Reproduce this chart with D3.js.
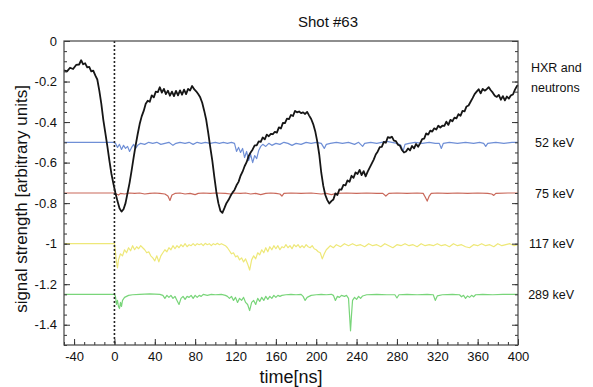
<!DOCTYPE html>
<html><head><meta charset="utf-8">
<script src="https://cdn.jsdelivr.net/npm/d3@7"></script>
<style>body{margin:0;background:#fff}svg{display:block}text{font-family:"Liberation Sans",Arial,Helvetica,sans-serif;fill:#111}</style>
</head><body><svg id="c" width="593" height="387"></svg>
<script>
const title = "Shot #63";
const xLabel = "time[ns]";
const yLabel = "signal strength [arbitrary units]";
const xTicks = [-40,0,40,80,120,160,200,240,280,320,360,400];
const yTicks = [0,-0.2,-0.4,-0.6,-0.8,-1,-1.2,-1.4];
const seriesNames = ["HXR and neutrons","52 keV","75 keV","117 keV","289 keV"];
const seriesBase = [null,-0.5,-0.75,-1.0,-1.25];
const seriesColors = ["#161616","#6f8fd6","#c9685a","#eee878","#79d57a"];

const hxr = [[-50,-0.145],[-47,-0.150],[-44,-0.132],[-41,-0.138],[-38,-0.118],[-35,-0.116],[-33,-0.095],[-31,-0.115],[-29,-0.110],[-27,-0.130],[-25,-0.128],[-23,-0.150],[-21,-0.146],[-19,-0.170],[-17,-0.190],[-15,-0.245],[-13,-0.310],[-11,-0.390],[-9,-0.455],[-7,-0.520],[-5,-0.590],[-3,-0.655],[-1,-0.705],[1,-0.750],[3,-0.790],[5,-0.825],[7,-0.842],[9,-0.830],[11,-0.800],[13,-0.750],[15,-0.700],[17,-0.640],[19,-0.575],[21,-0.515],[23,-0.460],[25,-0.410],[27,-0.372],[29,-0.345],[31,-0.310],[33,-0.295],[35,-0.300],[37,-0.268],[39,-0.278],[41,-0.250],[43,-0.252],[45,-0.228],[47,-0.255],[49,-0.236],[51,-0.262],[53,-0.245],[55,-0.270],[57,-0.250],[59,-0.272],[61,-0.246],[63,-0.268],[65,-0.244],[67,-0.265],[69,-0.240],[71,-0.262],[73,-0.236],[75,-0.244],[77,-0.222],[79,-0.238],[81,-0.248],[83,-0.262],[85,-0.278],[87,-0.305],[89,-0.345],[91,-0.390],[93,-0.455],[95,-0.525],[97,-0.590],[99,-0.670],[101,-0.745],[103,-0.800],[105,-0.838],[107,-0.848],[109,-0.825],[111,-0.800],[113,-0.785],[115,-0.765],[117,-0.748],[119,-0.735],[121,-0.712],[123,-0.695],[125,-0.665],[127,-0.645],[129,-0.618],[131,-0.598],[133,-0.568],[135,-0.550],[137,-0.535],[139,-0.515],[141,-0.515],[143,-0.495],[145,-0.498],[147,-0.476],[149,-0.485],[151,-0.462],[153,-0.470],[155,-0.458],[157,-0.460],[159,-0.448],[161,-0.452],[163,-0.426],[165,-0.432],[167,-0.404],[169,-0.405],[171,-0.383],[173,-0.385],[175,-0.365],[177,-0.370],[179,-0.345],[181,-0.352],[183,-0.348],[185,-0.356],[187,-0.352],[189,-0.360],[191,-0.350],[193,-0.368],[195,-0.385],[197,-0.410],[199,-0.445],[201,-0.495],[203,-0.560],[205,-0.650],[207,-0.715],[209,-0.760],[211,-0.785],[213,-0.802],[215,-0.790],[217,-0.782],[219,-0.752],[221,-0.760],[223,-0.732],[225,-0.733],[227,-0.710],[229,-0.712],[231,-0.688],[233,-0.695],[235,-0.665],[237,-0.675],[239,-0.648],[241,-0.656],[243,-0.636],[245,-0.662],[247,-0.642],[249,-0.668],[251,-0.645],[253,-0.625],[255,-0.605],[257,-0.585],[259,-0.560],[261,-0.545],[263,-0.524],[265,-0.522],[267,-0.498],[269,-0.502],[271,-0.474],[273,-0.478],[275,-0.472],[277,-0.492],[279,-0.494],[281,-0.512],[283,-0.516],[285,-0.538],[287,-0.550],[289,-0.545],[291,-0.530],[293,-0.540],[295,-0.518],[297,-0.530],[299,-0.508],[301,-0.522],[303,-0.505],[305,-0.484],[307,-0.482],[309,-0.456],[311,-0.462],[313,-0.442],[315,-0.447],[317,-0.431],[319,-0.437],[321,-0.418],[323,-0.427],[325,-0.418],[327,-0.419],[329,-0.398],[331,-0.414],[333,-0.389],[335,-0.396],[337,-0.378],[339,-0.382],[341,-0.361],[343,-0.369],[345,-0.345],[347,-0.347],[349,-0.323],[351,-0.318],[353,-0.300],[355,-0.282],[357,-0.262],[359,-0.250],[361,-0.238],[363,-0.258],[365,-0.236],[367,-0.245],[369,-0.238],[371,-0.228],[373,-0.243],[375,-0.255],[377,-0.270],[379,-0.276],[381,-0.266],[383,-0.290],[385,-0.272],[387,-0.293],[389,-0.274],[391,-0.284],[393,-0.268],[395,-0.264],[397,-0.240],[399,-0.222],[400,-0.218]];

const kev52 = [[-50,-0.5],[-1,-0.5],[1,-0.505],[3,-0.525],[5,-0.51],[7,-0.535],[9,-0.515],[11,-0.53],[13,-0.52],[15,-0.545],[17,-0.525],[19,-0.51],[21,-0.53],[23,-0.515],[26,-0.505],[30,-0.51],[34,-0.5],[38,-0.505],[42,-0.5],[46,-0.51],[50,-0.505],[54,-0.5],[58,-0.515],[61,-0.505],[65,-0.5],[70,-0.505],[74,-0.5],[78,-0.51],[82,-0.5],[86,-0.505],[90,-0.5],[95,-0.505],[100,-0.5],[104,-0.505],[108,-0.5],[112,-0.505],[116,-0.5],[119,-0.505],[121,-0.545],[123,-0.525],[125,-0.55],[127,-0.53],[129,-0.575],[131,-0.545],[133,-0.59],[135,-0.56],[137,-0.6],[139,-0.565],[141,-0.58],[143,-0.54],[145,-0.52],[147,-0.51],[150,-0.52],[153,-0.505],[156,-0.515],[160,-0.505],[164,-0.51],[168,-0.5],[172,-0.505],[176,-0.515],[180,-0.505],[185,-0.51],[190,-0.5],[195,-0.505],[200,-0.5],[205,-0.505],[208,-0.53],[210,-0.51],[214,-0.505],[220,-0.5],[226,-0.505],[232,-0.5],[238,-0.51],[242,-0.5],[246,-0.52],[248,-0.505],[254,-0.5],[260,-0.505],[265,-0.5],[270,-0.495],[275,-0.5],[280,-0.505],[284,-0.515],[286,-0.545],[288,-0.51],[292,-0.505],[298,-0.5],[305,-0.505],[312,-0.5],[318,-0.505],[322,-0.505],[324,-0.53],[326,-0.505],[332,-0.5],[340,-0.505],[348,-0.5],[356,-0.505],[362,-0.5],[366,-0.505],[368,-0.52],[370,-0.505],[378,-0.5],[386,-0.505],[394,-0.5],[400,-0.5]];

const kev75 = [[-50,-0.75],[0,-0.75],[2,-0.755],[4,-0.76],[6,-0.752],[10,-0.755],[15,-0.75],[20,-0.752],[25,-0.75],[30,-0.755],[35,-0.752],[40,-0.75],[45,-0.752],[50,-0.755],[53,-0.765],[55,-0.787],[57,-0.76],[60,-0.752],[65,-0.75],[70,-0.755],[75,-0.752],[80,-0.758],[83,-0.752],[88,-0.75],[95,-0.752],[100,-0.75],[110,-0.752],[115,-0.755],[118,-0.75],[125,-0.752],[130,-0.75],[135,-0.755],[140,-0.752],[145,-0.758],[150,-0.752],[155,-0.75],[160,-0.752],[164,-0.755],[166,-0.765],[168,-0.752],[175,-0.75],[185,-0.752],[195,-0.75],[205,-0.755],[210,-0.752],[215,-0.758],[220,-0.752],[230,-0.75],[240,-0.752],[250,-0.75],[260,-0.752],[266,-0.752],[269,-0.765],[272,-0.752],[280,-0.75],[290,-0.752],[300,-0.75],[306,-0.752],[308,-0.77],[310,-0.79],[312,-0.765],[314,-0.752],[320,-0.75],[330,-0.752],[340,-0.75],[350,-0.752],[360,-0.75],[370,-0.752],[374,-0.755],[376,-0.762],[378,-0.752],[390,-0.75],[400,-0.75]];

const kev117 = [[-50,-1.0],[0,-1.0],[1,-1.04],[2,-1.09],[3,-1.12],[4,-1.08],[6,-1.05],[8,-1.06],[10,-1.03],[12,-1.045],[14,-1.02],[16,-1.035],[18,-1.01],[20,-1.03],[22,-1.015],[24,-1.025],[26,-1.01],[28,-1.02],[30,-1.03],[32,-1.045],[34,-1.04],[36,-1.06],[38,-1.07],[40,-1.085],[42,-1.06],[44,-1.09],[46,-1.06],[48,-1.045],[50,-1.03],[52,-1.04],[54,-1.02],[56,-1.03],[58,-1.01],[60,-1.025],[62,-1.01],[64,-1.02],[66,-1.005],[68,-1.015],[70,-1.0],[72,-1.015],[74,-1.005],[76,-1.01],[78,-1.0],[80,-1.01],[82,-1.0],[84,-1.005],[86,-1.0],[88,-1.01],[90,-0.998],[92,-1.005],[94,-1.0],[96,-1.01],[98,-1.0],[100,-1.005],[102,-0.998],[104,-1.005],[106,-1.0],[108,-1.005],[110,-1.01],[112,-1.02],[114,-1.035],[116,-1.05],[118,-1.045],[120,-1.065],[122,-1.06],[124,-1.08],[126,-1.07],[128,-1.09],[130,-1.075],[132,-1.1],[134,-1.13],[136,-1.08],[138,-1.06],[140,-1.075],[142,-1.045],[144,-1.055],[146,-1.03],[148,-1.045],[150,-1.02],[152,-1.04],[154,-1.015],[156,-1.03],[158,-1.01],[160,-1.025],[162,-1.01],[164,-1.03],[166,-1.015],[168,-1.02],[170,-1.005],[172,-1.02],[174,-1.01],[176,-1.025],[178,-1.005],[180,-1.015],[182,-1.005],[184,-1.02],[186,-1.01],[188,-1.02],[190,-1.005],[192,-1.015],[194,-1.02],[196,-1.01],[198,-1.025],[200,-1.03],[202,-1.04],[204,-1.045],[206,-1.075],[208,-1.05],[210,-1.03],[212,-1.02],[214,-1.01],[217,-1.02],[220,-1.005],[224,-1.015],[228,-1.0],[232,-1.01],[236,-1.0],[240,-1.01],[244,-1.005],[248,-1.015],[252,-1.0],[256,-1.01],[260,-1.005],[264,-1.015],[268,-1.0],[272,-1.01],[276,-1.02],[280,-1.005],[284,-1.01],[288,-1.0],[292,-1.01],[296,-1.005],[300,-1.015],[304,-1.0],[308,-1.01],[312,-1.005],[316,-1.01],[320,-1.0],[324,-1.01],[328,-1.005],[332,-1.015],[336,-1.0],[340,-1.01],[344,-1.005],[348,-1.015],[352,-1.02],[356,-1.005],[360,-1.01],[364,-1.0],[368,-1.01],[372,-1.005],[376,-1.015],[380,-1.0],[384,-1.01],[388,-1.005],[392,-1.0],[396,-1.01],[400,-1.005]];

const kev289 = [[-50,-1.25],[0,-1.25],[1,-1.26],[2,-1.3],[3,-1.28],[4,-1.31],[5,-1.32],[6,-1.29],[7,-1.31],[8,-1.28],[10,-1.265],[12,-1.26],[14,-1.255],[18,-1.252],[25,-1.25],[35,-1.248],[45,-1.25],[48,-1.255],[50,-1.27],[52,-1.255],[54,-1.265],[56,-1.255],[58,-1.27],[60,-1.26],[62,-1.28],[64,-1.30],[66,-1.27],[68,-1.26],[70,-1.275],[72,-1.26],[74,-1.265],[76,-1.255],[78,-1.27],[80,-1.255],[82,-1.265],[84,-1.255],[86,-1.26],[88,-1.25],[92,-1.255],[96,-1.25],[100,-1.252],[106,-1.25],[110,-1.255],[112,-1.26],[114,-1.27],[116,-1.26],[118,-1.28],[120,-1.265],[122,-1.29],[124,-1.27],[126,-1.28],[128,-1.265],[130,-1.29],[132,-1.3],[134,-1.33],[136,-1.29],[138,-1.28],[140,-1.3],[142,-1.27],[144,-1.285],[146,-1.265],[148,-1.28],[150,-1.26],[152,-1.275],[154,-1.26],[156,-1.27],[158,-1.255],[160,-1.265],[162,-1.255],[164,-1.26],[166,-1.255],[170,-1.252],[175,-1.25],[180,-1.252],[185,-1.25],[187,-1.26],[189,-1.28],[191,-1.265],[193,-1.26],[195,-1.255],[200,-1.252],[205,-1.25],[210,-1.252],[215,-1.25],[217,-1.255],[219,-1.28],[221,-1.26],[223,-1.265],[225,-1.255],[228,-1.26],[230,-1.255],[232,-1.27],[233,-1.35],[234,-1.43],[235,-1.35],[236,-1.28],[238,-1.265],[240,-1.275],[242,-1.26],[244,-1.27],[246,-1.258],[250,-1.252],[260,-1.25],[270,-1.252],[278,-1.252],[280,-1.268],[282,-1.252],[290,-1.25],[300,-1.252],[310,-1.25],[316,-1.252],[318,-1.28],[320,-1.258],[325,-1.252],[335,-1.25],[342,-1.252],[344,-1.262],[346,-1.255],[348,-1.27],[350,-1.258],[352,-1.265],[354,-1.255],[356,-1.262],[358,-1.252],[365,-1.25],[375,-1.252],[385,-1.25],[400,-1.25]];

const seriesData = [hxr, kev52, kev75, kev117, kev289];

const svg = d3.select("#c");
const L = 64, R = 518, T = 41, B = 345;
const x = d3.scaleLinear().domain([-50, 400]).range([L, R]);
const y = d3.scaleLinear().domain([-1.5, 0]).range([B, T]);

const minorX = d3.range(-50, 401, 10);
const minorY = d3.range(0, -1.501, -0.05).map(v => +v.toFixed(2));

const line = d3.line().x(d => x(d[0])).y(d => y(d[1]));
const g = svg.append("g");
[1,2,3,4].forEach(i => {
  g.append("path").datum(seriesData[i]).attr("d", line)
    .attr("fill","none").attr("stroke", seriesColors[i]).attr("stroke-width", 1.2).attr("stroke-linejoin","round");
});
g.append("path").datum(hxr).attr("d", line)
  .attr("fill","none").attr("stroke", seriesColors[0]).attr("stroke-width", 1.8).attr("stroke-linejoin","round");

svg.append("line").attr("x1", x(0)).attr("x2", x(0)).attr("y1", T).attr("y2", B)
  .attr("stroke","#222").attr("stroke-width",1.6).attr("stroke-dasharray","2,2");

const fmt = d => d === 0 ? "0" : String(+d.toFixed(1));
svg.append("g").attr("transform",`translate(0,${B})`)
  .call(d3.axisBottom(x).tickValues(minorX).tickSize(-3).tickFormat(""));
svg.append("g").attr("transform",`translate(0,${B})`)
  .call(d3.axisBottom(x).tickValues(xTicks).tickSize(-6).tickPadding(7).tickFormat(d => String(d)))
  .call(s => s.selectAll("text").attr("font-size", 13).attr("fill","#111"));
svg.append("g").attr("transform",`translate(${L},0)`)
  .call(d3.axisLeft(y).tickValues(minorY).tickSize(-3).tickFormat(""));
svg.append("g").attr("transform",`translate(${L},0)`)
  .call(d3.axisLeft(y).tickValues(yTicks).tickSize(-6).tickPadding(7).tickFormat(fmt))
  .call(s => s.selectAll("text").attr("font-size", 13).attr("fill","#111"));
svg.append("g").attr("transform",`translate(${R},0)`)
  .call(d3.axisRight(y).tickValues(minorY).tickSize(-3).tickFormat(""));
svg.append("g").attr("transform",`translate(${R},0)`)
  .call(d3.axisRight(y).tickValues(yTicks).tickSize(-6).tickFormat(""));
svg.selectAll(".domain").remove();
svg.selectAll(".tick line").attr("stroke","#333");

svg.append("rect").attr("x", L).attr("y", T).attr("width", R-L).attr("height", B-T)
  .attr("fill","none").attr("stroke","#444").attr("stroke-width",1.2);

svg.append("text").attr("x", 328).attr("y", 27).attr("text-anchor","middle").attr("font-size", 15).text(title);
svg.append("text").attr("x", (L+R)/2).attr("y", 383).attr("text-anchor","middle").attr("font-size", 18).text(xLabel);
svg.append("text").attr("transform",`translate(27,${(T+B)/2 + 6}) rotate(-90)`).attr("text-anchor","middle").attr("font-size", 17).text(yLabel);

svg.append("text").attr("x", 531).attr("y", 72).attr("font-size", 12.5).text("HXR and");
svg.append("text").attr("x", 531).attr("y", 92).attr("font-size", 12.5).text("neutrons");
[1,2,3,4].forEach(i => {
  svg.append("text").attr("x", 574).attr("y", y(seriesBase[i]) + 4.5).attr("text-anchor","end")
    .attr("font-size", 12.5).text(seriesNames[i]);
});
</script></body></html>
